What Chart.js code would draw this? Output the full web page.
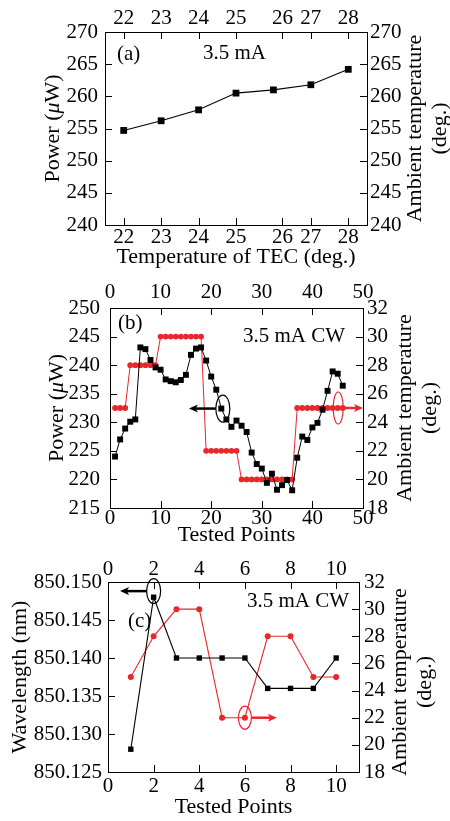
<!DOCTYPE html>
<html><head><meta charset="utf-8">
<script src="https://cdn.jsdelivr.net/npm/chart.js@4.4.0/dist/chart.umd.min.js"></script>
<style>
html,body{margin:0;padding:0;background:#fff;width:450px;height:821px;overflow:hidden;position:relative}
canvas{position:absolute;left:0}
</style></head><body>
<canvas id="ca" width="450" height="275" style="top:0px"></canvas>
<canvas id="cb" width="450" height="278" style="top:275px"></canvas>
<canvas id="cc" width="450" height="268" style="top:553px"></canvas>
<script>
// ---------- Panel (a) ----------
const tecTemps = [22, 23, 24, 25, 26, 27, 28];
const powerA = [254.7, 256.2, 257.9, 260.5, 261.0, 261.8, 264.2];
const tecTickValues = [22, 23, 24, 25, 26.24, 27, 28];
const tecTickLabels = ['22', '23', '24', '25', '26', '27', '28'];

// ---------- Panel (b) ----------
const pointsB = [1,2,3,4,5,6,7,8,9,10,11,12,13,14,15,16,17,18,19,20,21,22,23,24,25,26,27,28,29,30,31,32,33,34,35,36,37,38,39,40,41,42,43,44,45,46];
const powerB = [224.0, 227.0, 228.9, 230.1, 230.5, 243.1, 242.8, 240.9, 239.6, 239.2,
                237.5, 237.2, 237.0, 237.4, 238.3, 241.8, 242.9, 243.1, 240.8, 238.0,
                235.7, 232.4, 230.5, 229.2, 230.3, 229.4, 228.3, 224.7, 222.7, 221.9,
                219.4, 221.0, 218.2, 219.0, 219.9, 218.1, 223.8, 227.5, 226.9, 229.1,
                229.9, 232.2, 235.5, 238.9, 238.5, 236.4];
const ambientB = [25, 25, 25, 28, 28, 28, 28, 28, 28, 30,
                  30, 30, 30, 30, 30, 30, 30, 30, 22, 22,
                  22, 22, 22, 22, 22, 20, 20, 20, 20, 20,
                  20, 20, 20, 20, 20, 20, 25, 25, 25, 25,
                  25, 25, 25, 25, 25, 25];

// ---------- Panel (c) ----------
const pointsC = [1, 2, 3, 4, 5, 6, 7, 8, 9, 10];
const wavelengthC = [850.128, 850.148, 850.140, 850.140, 850.140, 850.140, 850.136, 850.136, 850.136, 850.140];
const ambientC = [25, 28, 30, 30, 22, 22, 28, 28, 25, 25];

const BLACK = '#000000';
const RED = '#e8262b';
const FAM = '"Liberation Serif", "DejaVu Serif", serif';
const tickFont = { family: FAM, size: 21 };
const titleFont = { family: FAM, size: 22 };
const TICK_LEN = 7;

function xy(xs, ys) { return xs.map((x, i) => ({ x: x, y: ys[i] })); }

// plugin: inward tick marks, annotations, side titles, ellipses and arrows
const marksPlugin = {
  id: 'marks',
  afterDatasetsDraw(chart, args, o) {
    const ctx = chart.ctx, ca = chart.chartArea, sc = chart.scales;
    ctx.save();
    // inward tick marks
    ctx.strokeStyle = BLACK; ctx.lineWidth = 1;
    Object.values(sc).forEach(s => {
      s.ticks.forEach(t => {
        const p = Math.round(s.getPixelForValue(t.value)) + 0.5;
        ctx.beginPath();
        if (s.position === 'bottom') { ctx.moveTo(p, ca.bottom); ctx.lineTo(p, ca.bottom - TICK_LEN); }
        else if (s.position === 'top') { ctx.moveTo(p, ca.top); ctx.lineTo(p, ca.top + TICK_LEN); }
        else if (s.position === 'left') { ctx.moveTo(ca.left, p); ctx.lineTo(ca.left + TICK_LEN, p); }
        else if (s.position === 'right') { ctx.moveTo(ca.right, p); ctx.lineTo(ca.right - TICK_LEN, p); }
        ctx.stroke();
      });
    });
    (o.ellipses || []).forEach(e => {
      const cx = sc[e.xAxis].getPixelForValue(e.x);
      const cy = sc[e.yAxis].getPixelForValue(e.y);
      ctx.beginPath();
      ctx.ellipse(cx, cy, e.rx, e.ry, 0, 0, Math.PI * 2);
      ctx.strokeStyle = e.color; ctx.lineWidth = 1.2; ctx.stroke();
    });
    (o.arrows || []).forEach(a => {
      const x1 = sc[a.xAxis].getPixelForValue(a.x1);
      const x2 = sc[a.xAxis].getPixelForValue(a.x2);
      const y = sc[a.yAxis].getPixelForValue(a.y);
      const dir = Math.sign(x2 - x1), h = 9;
      ctx.beginPath(); ctx.moveTo(x1, y); ctx.lineTo(x2 - dir * h * 0.7, y);
      ctx.strokeStyle = a.color; ctx.lineWidth = 2.5; ctx.stroke();
      ctx.beginPath(); ctx.moveTo(x2, y);
      ctx.lineTo(x2 - dir * h, y - h * 0.45);
      ctx.lineTo(x2 - dir * h * 0.75, y);
      ctx.lineTo(x2 - dir * h, y + h * 0.45);
      ctx.closePath(); ctx.fillStyle = a.color; ctx.fill();
    });
    ctx.fillStyle = BLACK; ctx.textBaseline = 'middle'; ctx.textAlign = 'left';
    ctx.font = '21px ' + FAM;
    (o.texts || []).forEach(t => { ctx.fillText(t.text, ca.left + t.dx, ca.top + t.dy); });
    const cyMid = (ca.top + ca.bottom) / 2;
    if (o.leftTitle) {
      // rich left title, e.g. Power (μW) with italic μ
      const parts = o.leftTitle.parts;
      const fonts = parts.map(p => (p.italic ? 'italic ' : '') + '22px ' + FAM);
      let total = 0;
      const widths = parts.map((p, i) => { ctx.font = fonts[i]; const w = ctx.measureText(p.text).width; total += w; return w; });
      ctx.save();
      ctx.translate(ca.left + o.leftTitle.offset, cyMid);
      ctx.rotate(-Math.PI / 2);
      ctx.textAlign = 'left';
      let x = -total / 2;
      parts.forEach((p, i) => { ctx.font = fonts[i]; ctx.fillText(p.text, x, 0); x += widths[i]; });
      ctx.restore();
    }
    if (o.rightTitle) {
      const r = o.rightTitle;
      ctx.font = '22px ' + FAM; ctx.textAlign = 'center';
      const cy = cyMid + (r.dy || 0);
      r.lines.forEach((line, i) => {
        ctx.save();
        ctx.translate(ca.right + r.offsets[i], cy);
        ctx.rotate(-Math.PI / 2);
        ctx.fillText(line, 0, 0);
        ctx.restore();
      });
    }
    ctx.restore();
  }
};

function axis(pos, min, max, opts) {
  const isX = pos === 'top' || pos === 'bottom';
  const s = {
    type: 'linear', position: pos, min: min, max: max,
    ticks: Object.assign({ font: tickFont, color: BLACK, padding: opts.pad, maxRotation: 0, autoSkip: false, includeBounds: false }, opts.ticks || {}),
    grid: { display: false, drawOnChartArea: false, drawTicks: true, tickLength: -7 },
    border: { display: true, color: BLACK, width: 1 },
    title: opts.title ? { display: true, text: opts.title, font: titleFont, color: BLACK, padding: opts.titlePad } : { display: false },
    afterFit: sc => { if (isX) sc.height = opts.size; else sc.width = opts.size; }
  };
  if (opts.afterBuildTicks) s.afterBuildTicks = opts.afterBuildTicks;
  return s;
}

function baseOptions(scales, marks) {
  return {
    responsive: false, animation: false, devicePixelRatio: 1,
    layout: { padding: 0 },
    plugins: { legend: { display: false }, tooltip: { enabled: false }, marks: marks },
    scales: scales
  };
}

const tecTicks = sc => { sc.ticks = tecTickValues.map(v => ({ value: v })); };
const tecLabel = (v, i) => tecTickLabels[i];
const powerTitle = [{ text: 'Power (' }, { text: 'μ', italic: true }, { text: 'W)' }];

// ---------- Chart (a) ----------
new Chart(document.getElementById('ca'), {
  type: 'line',
  data: { datasets: [{
    data: xy(tecTemps, powerA), xAxisID: 'x', yAxisID: 'y',
    borderColor: BLACK, borderWidth: 1.1, pointStyle: 'rect', pointRadius: 4.8,
    pointBackgroundColor: BLACK, pointBorderColor: BLACK, pointBorderWidth: 0, tension: 0
  }] },
  options: baseOptions({
    x: axis('bottom', 21.5, 28.5, { pad: 7, size: 50, title: 'Temperature of TEC (deg.)', titlePad: { top: 0, bottom: 5 }, afterBuildTicks: tecTicks, ticks: { callback: tecLabel } }),
    x2: axis('top', 21.5, 28.5, { pad: 8, size: 32, afterBuildTicks: tecTicks, ticks: { callback: tecLabel } }),
    y: axis('left', 240, 270, { pad: 14, size: 105, ticks: { stepSize: 5 } }),
    y2: axis('right', 240, 270, { pad: 10, size: 83, ticks: { stepSize: 5 } })
  }, {
    texts: [{ text: '(a)', dx: 12, dy: 22 }, { text: '3.5 mA', dx: 98, dy: 21 }],
    leftTitle: { parts: powerTitle, offset: -52 },
    rightTitle: { lines: ['Ambient temperature', '(deg.)'], offsets: [48, 73] }
  }),
  plugins: [marksPlugin]
});

// ---------- Chart (b) ----------
new Chart(document.getElementById('cb'), {
  type: 'line',
  data: { datasets: [{
    data: xy(pointsB, powerB), xAxisID: 'x', yAxisID: 'y',
    borderColor: BLACK, borderWidth: 1, pointStyle: 'rect', pointRadius: 4.2,
    pointBackgroundColor: BLACK, pointBorderColor: BLACK, pointBorderWidth: 0, tension: 0
  }, {
    data: xy(pointsB, ambientB), xAxisID: 'x', yAxisID: 'y2',
    borderColor: RED, borderWidth: 1, pointStyle: 'circle', pointRadius: 2.9,
    pointBackgroundColor: RED, pointBorderColor: RED, pointBorderWidth: 0, tension: 0
  }] },
  options: baseOptions({
    x: axis('bottom', 0, 50, { pad: 5, size: 45, title: 'Tested Points', titlePad: { top: 0, bottom: 5 }, ticks: { stepSize: 10 } }),
    x2: axis('top', 0, 50, { pad: 10, size: 33, ticks: { stepSize: 10 } }),
    y: axis('left', 215, 250, { pad: 17, size: 110, ticks: { stepSize: 5 } }),
    y2: axis('right', 18, 32, { pad: 11, size: 87, ticks: { stepSize: 2 } })
  }, {
    texts: [{ text: '(b)', dx: 8, dy: 15 }, { text: '3.5 mA CW', dx: 133, dy: 28 }],
    ellipses: [{ xAxis: 'x', yAxis: 'y', x: 22.3, y: 232.4, rx: 7, ry: 13.5, color: BLACK },
               { xAxis: 'x', yAxis: 'y2', x: 45.1, y: 25, rx: 5, ry: 16, color: RED }],
    arrows: [{ xAxis: 'x', yAxis: 'y', x1: 20.9, x2: 15.6, y: 232.4, color: BLACK },
             { xAxis: 'x', yAxis: 'y2', x1: 43.0, x2: 50, y: 25, color: RED }],
    leftTitle: { parts: powerTitle, offset: -53 },
    rightTitle: { lines: ['Ambient temperature', '(deg.)'], offsets: [42, 67] }
  }),
  plugins: [marksPlugin]
});

// ---------- Chart (c) ----------
new Chart(document.getElementById('cc'), {
  type: 'line',
  data: { datasets: [{
    data: xy(pointsC, wavelengthC), xAxisID: 'x', yAxisID: 'y',
    borderColor: BLACK, borderWidth: 1.1, pointStyle: 'rect', pointRadius: 3.8,
    pointBackgroundColor: BLACK, pointBorderColor: BLACK, pointBorderWidth: 0, tension: 0
  }, {
    data: xy(pointsC, ambientC), xAxisID: 'x', yAxisID: 'y2',
    borderColor: RED, borderWidth: 1.1, pointStyle: 'circle', pointRadius: 3,
    pointBackgroundColor: RED, pointBorderColor: RED, pointBorderWidth: 0, tension: 0
  }] },
  options: baseOptions({
    x: axis('bottom', 0, 11, { pad: 9, size: 49, title: 'Tested Points', titlePad: { top: 0, bottom: 1 }, ticks: { stepSize: 2 } }),
    x2: axis('top', 0, 11, { pad: 7, size: 29, ticks: { stepSize: 2 } }),
    y: axis('left', 850.125, 850.150, { pad: 13, size: 108, title: 'Wavelength (nm)', titlePad: { top: 7, bottom: 0 }, ticks: { stepSize: 0.005, callback: v => v.toFixed(3) } }),
    y2: axis('right', 18, 32, { pad: 12, size: 91, ticks: { stepSize: 2 } })
  }, {
    texts: [{ text: '(c)', dx: 20, dy: 39 }, { text: '3.5 mA CW', dx: 139, dy: 19 }],
    ellipses: [{ xAxis: 'x', yAxis: 'y', x: 2, y: 850.1488, rx: 7, ry: 12.5, color: BLACK },
               { xAxis: 'x', yAxis: 'y2', x: 6, y: 22, rx: 6.5, ry: 11.5, color: RED }],
    arrows: [{ xAxis: 'x', yAxis: 'y', x1: 1.70, x2: 0.53, y: 850.1488, color: BLACK },
             { xAxis: 'x', yAxis: 'y2', x1: 6.27, x2: 7.4, y: 22, color: RED }],
    rightTitle: { lines: ['Ambient temperature', '(deg.)'], offsets: [41, 66], dy: 5 }
  }),
  plugins: [marksPlugin]
});
</script>
</body></html>
